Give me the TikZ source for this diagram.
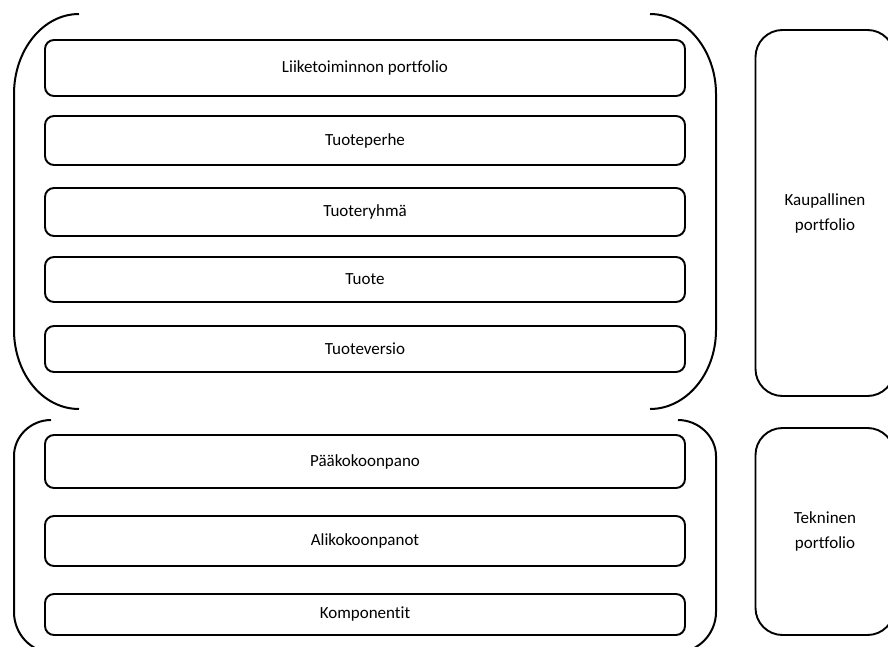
\documentclass[tikz,border=0pt]{standalone}
\usepackage{fontspec}
\setmainfont{Carlito}[Ligatures=CommonOff]
\usepackage{tikz}

\begin{document}
\begin{tikzpicture}[x=1pt,y=-1pt,
	tier/.style={draw, line width=1.9pt, rounded corners=9pt, minimum width=640pt, inner sep=0pt, font=\fontsize{17}{20}\selectfont},
	side/.style={draw, line width=1.9pt, rounded corners=27pt, minimum width=139pt, inner sep=0pt, align=center, font=\fontsize{17}{25}\selectfont},
	brace/.style={line width=2pt}]
	\useasboundingbox (0,0) rectangle (888,647);
	\clip (0,0) rectangle (888,647);

	\node[tier, minimum height=56pt] (liike) at (365,68) {Liiketoiminnon portfolio};
	\node[tier, minimum height=49pt] (perhe) at (365,140.5) {Tuoteperhe};
	\node[tier, minimum height=48pt] (ryhma) at (365,212) {Tuoteryhmä};
	\node[tier, minimum height=45pt] (tuote) at (365,279.5) {Tuote};
	\node[tier, minimum height=46pt] (versio) at (365,349) {Tuoteversio};

	\node[tier, minimum height=53pt] (paako) at (365,461.5) {Pääkokoonpano};
	\node[tier, minimum height=50pt] (aliko) at (365,541) {Alikokoonpanot};
	\node[tier, minimum height=41pt] (kompo) at (365,614.5) {Komponentit};

	\node[side, minimum height=366pt] (kaup) at (825,213) {Kaupallinen\\portfolio};
	\node[side, minimum height=207pt] (tekn) at (825,531.5) {Tekninen\\portfolio};

	% kaupallinen puoli
	\draw[brace] (79,14) .. controls (43,14) and (14,50) .. (14,94) -- (14,330) .. controls (14,374) and (43,409) .. (79,409);
	\draw[brace] (650,14) .. controls (686,14) and (716,50) .. (716,94) -- (716,330) .. controls (716,374) and (686,409) .. (650,409);
	% tekninen puoli
	\draw[brace] (51,420) .. controls (31,420) and (14,436) .. (14,456) -- (14,612) .. controls (14,634) and (31,652) .. (51,652);
	\draw[brace] (678,420) .. controls (698,420) and (716,436) .. (716,456) -- (716,612) .. controls (716,634) and (698,652) .. (678,652);
\end{tikzpicture}
\end{document}
